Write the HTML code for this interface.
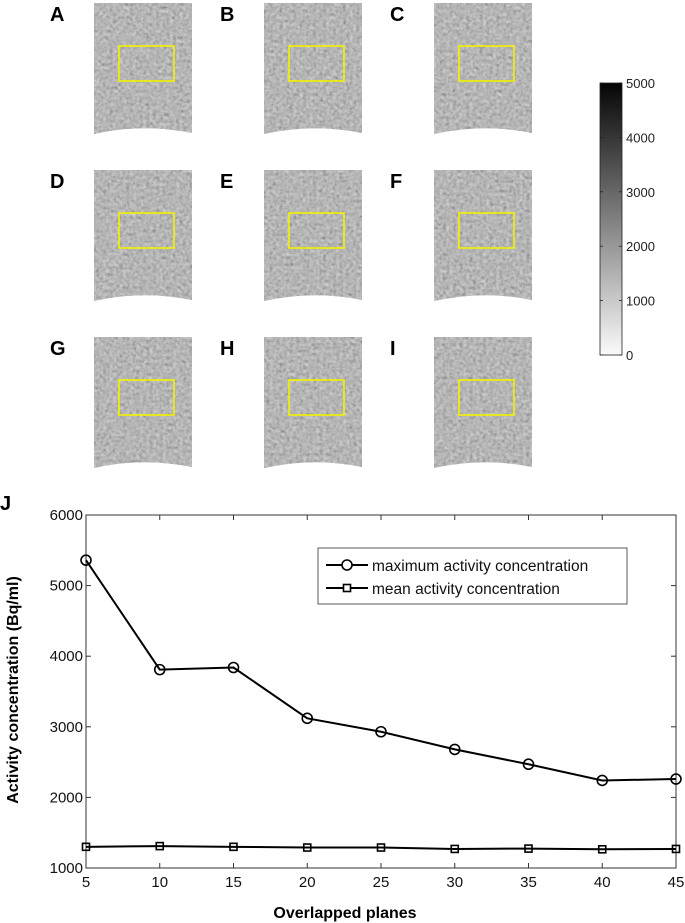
<!DOCTYPE html>
<html><head><meta charset="utf-8"><style>
html,body{margin:0;padding:0;background:#fff;}
svg{display:block;font-family:"Liberation Sans",Arial,sans-serif;}
</style></head><body>
<svg id="fig" width="685" height="923" viewBox="0 0 685 923">
<defs>
<filter id="noise" x="0" y="0" width="100%" height="100%">
<feTurbulence type="fractalNoise" baseFrequency="0.3" numOctaves="2" seed="3" result="t"/>
<feColorMatrix type="matrix" values="0.33 0.33 0.33 0 0  0.33 0.33 0.33 0 0  0.33 0.33 0.33 0 0  0 0 0 0 1" in="t" result="g"/>
<feComponentTransfer in="g" result="c"><feFuncR type="linear" slope="1.6" intercept="-0.2"/><feFuncG type="linear" slope="1.6" intercept="-0.2"/><feFuncB type="linear" slope="1.6" intercept="-0.2"/></feComponentTransfer>
<feComposite in="c" in2="SourceGraphic" operator="in"/>
</filter>
<linearGradient id="cbar" x1="0" y1="1" x2="0" y2="0"><stop offset="0" stop-color="#fafafa"/><stop offset="1" stop-color="#050505"/></linearGradient>
</defs>
<g id="panels"></g>
<g>
<rect x="600" y="83" width="22" height="272" fill="url(#cbar)" stroke="#222" stroke-width="0.8"/>
<g id="cbticks"></g>
</g>
<g id="chart"></g>
</svg>
<script>
const NS='http://www.w3.org/2000/svg';
function mk(tag,attrs,parent){const e=document.createElementNS(NS,tag);for(const k in attrs)e.setAttribute(k,attrs[k]);parent.appendChild(e);return e;}
const panelLabels=['A','B','C','D','E','F','G','H','I'];
const colX=[92,262,432], rowY=[3,170,337];
const pg=document.getElementById('panels');
panelLabels.forEach((L,i)=>{
  const x=colX[i%3], y=rowY[Math.floor(i/3)];
  const g=mk('g',{},pg);
  
  
  const d=`M${x+2},${y} L${x+100},${y} L${x+100},${y+130} Q${x+51},${y+120} ${x+2},${y+131} Z`;
  mk('path',{d:d,fill:'#9c9c9c'},g);
  mk('path',{d:d,fill:'#888',filter:'url(#noise)',opacity:'0.55'},g);
  mk('rect',{x:x+27,y:y+43,width:55,height:35,fill:'none',stroke:'#f2f200','stroke-width':'1.6'},g);
  const t=mk('text',{x:x-42,y:y+18,'font-size':'20','font-weight':'bold',fill:'#000'},g);
  t.textContent=L;
});
const cbTicks=[0,1000,2000,3000,4000,5000];
const cbg=document.getElementById('cbticks');
cbTicks.forEach(v=>{
  const y=355-v/5000*272;
  mk('line',{x1:600,x2:603,y1:y,y2:y,stroke:'#222','stroke-width':'0.8'},cbg);
  mk('line',{x1:619,x2:622,y1:y,y2:y,stroke:'#222','stroke-width':'0.8'},cbg);
  const t=mk('text',{x:626,y:y+5,'font-size':'13',fill:'#222'},cbg);
  t.textContent=v;
});
const xValues=[5,10,15,20,25,30,35,40,45];
const maxSeries=[5360,3810,3840,3120,2930,2680,2470,2240,2260];
const meanSeries=[1300,1310,1300,1290,1290,1270,1275,1265,1270];
const xTicks=[5,10,15,20,25,30,35,40,45];
const yTicks=[1000,2000,3000,4000,5000,6000];
const L=86,R=676,T=515,B=868;
const sx=v=>L+(v-5)/40*(R-L), sy=v=>B-(v-1000)/5000*(B-T);
const c=document.getElementById('chart');
const ax=mk('rect',{x:L,y:T,width:R-L,height:B-T,fill:'none',stroke:'#333','stroke-width':'1'},c);


xTicks.forEach(v=>{const x=sx(v);
  mk('line',{x1:x,x2:x,y1:B,y2:B-5,stroke:'#333'},c);mk('line',{x1:x,x2:x,y1:T,y2:T+5,stroke:'#333'},c);
  const t=mk('text',{x:x,y:B+19,'font-size':'15','text-anchor':'middle',fill:'#111'},c);t.textContent=v;
  
  });
yTicks.forEach(v=>{const y=sy(v);
  mk('line',{x1:L,x2:L+5,y1:y,y2:y,stroke:'#333'},c);mk('line',{x1:R,x2:R-5,y1:y,y2:y,stroke:'#333'},c);
  const t=mk('text',{x:L-3,y:y+5,'font-size':'15','text-anchor':'end',fill:'#111'},c);t.textContent=v;
  
  });
function series(vals,name,marker){
  const g=mk('g',{},c);
  
  
  mk('polyline',{points:vals.map((v,i)=>sx(xValues[i])+','+sy(v)).join(' '),fill:'none',stroke:'#000','stroke-width':'2'},g);
  vals.forEach((v,i)=>{const x=sx(xValues[i]),y=sy(v);
    if(marker==='o')mk('circle',{cx:x,cy:y,r:5,fill:'none',stroke:'#000','stroke-width':'1.6'},g);
    else mk('rect',{x:x-3.5,y:y-3.5,width:7,height:7,fill:'none',stroke:'#000','stroke-width':'1.6'},g);});
}
series(maxSeries,'series-maximum','o');
series(meanSeries,'series-mean','s');
const lg=mk('g',{},c);


mk('rect',{x:318,y:548,width:309,height:56,fill:'#fff',stroke:'#333','stroke-width':'0.8'},lg);
mk('line',{x1:326,x2:368,y1:565,y2:565,stroke:'#000','stroke-width':'2'},lg);
mk('circle',{cx:347,cy:565,r:5,fill:'#fff',stroke:'#000','stroke-width':'1.6'},lg);
mk('line',{x1:326,x2:368,y1:588,y2:588,stroke:'#000','stroke-width':'2'},lg);
mk('rect',{x:343.5,y:584.5,width:7,height:7,fill:'#fff',stroke:'#000','stroke-width':'1.6'},lg);
let t=mk('text',{x:372,y:571,'font-size':'15.5',fill:'#111'},lg);t.textContent='maximum activity concentration';
t=mk('text',{x:372,y:594,'font-size':'15.5',fill:'#111'},lg);t.textContent='mean activity concentration';
t=mk('text',{x:345,y:918,'font-size':'16','font-weight':'bold','text-anchor':'middle',fill:'#000'},c);t.textContent='Overlapped planes';


t=mk('text',{x:0,y:0,'font-size':'16','font-weight':'bold','text-anchor':'middle',fill:'#000',transform:'translate(18,690) rotate(-90)'},c);t.textContent='Activity concentration (Bq/ml)';


t=mk('text',{x:0,y:510,'font-size':'20','font-weight':'bold',fill:'#000'},c);t.textContent='J';


</script>
</body></html>
